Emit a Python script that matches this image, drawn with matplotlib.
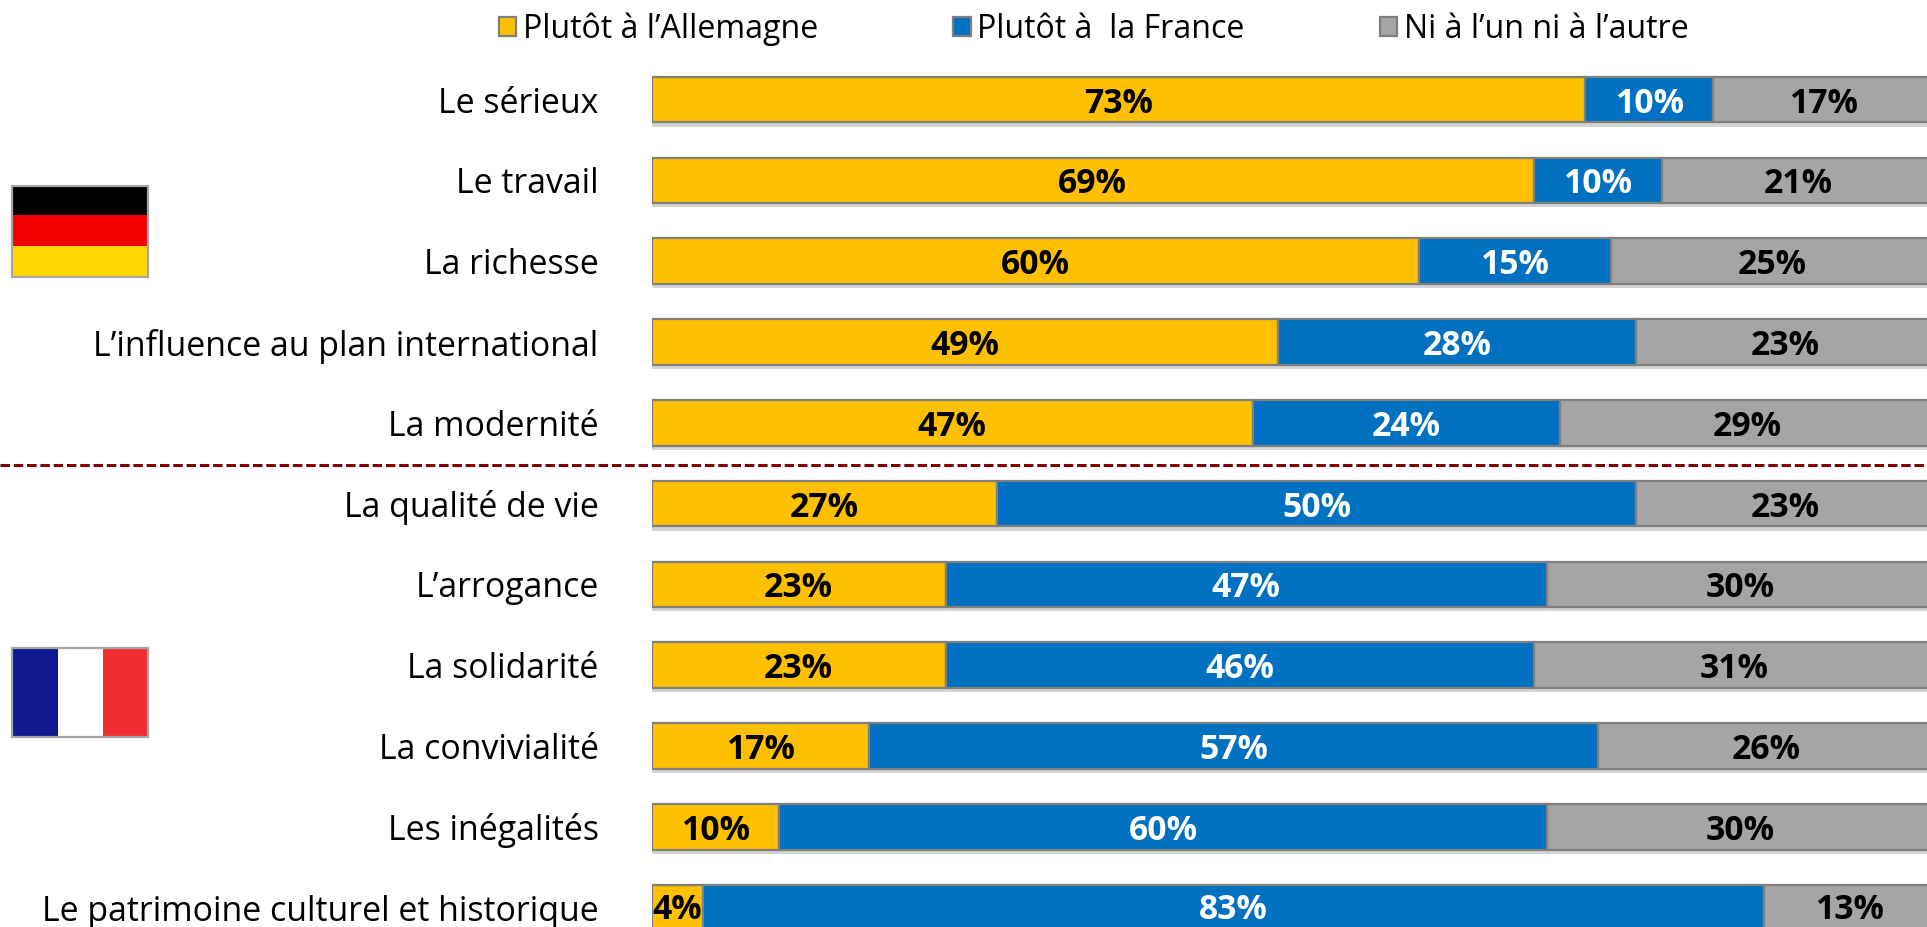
import numpy as np
import matplotlib
matplotlib.use("Agg")
import matplotlib.pyplot as plt
import matplotlib.patheffects as pe
from matplotlib.patches import Patch, Rectangle

plt.rcParams["font.family"] = ["Open Sans", "DejaVu Sans"]

# ---- data ----
categories = ["Le sérieux", "Le travail", "La richesse", "L’influence au plan international",
              "La modernité", "La qualité de vie", "L’arrogance", "La solidarité",
              "La convivialité", "Les inégalités", "Le patrimoine culturel et historique"]
allemagne = [73, 69, 60, 49, 47, 27, 23, 23, 17, 10, 4]
france = [10, 10, 15, 28, 24, 50, 47, 46, 57, 60, 83]
aucun = [17, 21, 25, 23, 29, 23, 30, 31, 26, 30, 13]
series_names = ["Plutôt à l’Allemagne", "Plutôt à  la France", "Ni à l’un ni à l’autre"]

W, H = 1927, 927
C_YEL, C_BLU, C_GRY, C_EDGE = "#FFC000", "#0070C0", "#A5A5A5", "#7F7F7F"

fig = plt.figure(figsize=(W / 100, H / 100), dpi=100, facecolor="white")

# axes from the left edge of the bars to the edge of the picture
left = 651.5
ax = fig.add_axes([left / W, 0, 1 - left / W, 1])
ax.set_xlim(0, (W - left) / 12.79)
pitch = 80.8
ax.set_ylim((H - 99.6) / pitch, -99.6 / pitch)
for s in ax.spines.values():
    s.set_visible(False)
ax.xaxis.set_visible(False)

y = np.arange(len(categories))
a = np.array(allemagne)
f = np.array(france)
n = np.array(aucun)
shadow = [pe.SimplePatchShadow(offset=(0, -3), shadow_rgbFace="#AAAAAA", alpha=0.5), pe.Normal()]

h = 45.5 / pitch
b1 = ax.barh(y, a, height=h, color=C_YEL, edgecolor=C_EDGE, linewidth=1.6, path_effects=shadow)
b2 = ax.barh(y, f, left=a, height=h, color=C_BLU, edgecolor=C_EDGE, linewidth=1.6, path_effects=shadow)
b3 = ax.barh(y, n, left=a + f, height=h, color=C_GRY, edgecolor=C_EDGE, linewidth=1.6, path_effects=shadow)

for bars, col, pad in [(b1, "black", 0), (b2, "white", 0), (b3, "black", 2.5)]:
    labels = ax.bar_label(bars, fmt="%g%%", label_type="center", color=col, fontsize=24.3,
                          fontweight="bold", padding=pad)
    for t in labels:
        t.set_va("center_baseline")

ax.set_yticks(y)
ax.set_yticklabels(categories, fontsize=24.4)
ax.tick_params(axis="y", length=0, pad=38)

# overlay in pixels for the flags and the separator
ov = fig.add_axes([0, 0, 1, 1], zorder=5)
ov.set_xlim(0, W)
ov.set_ylim(H, 0)
ov.axis("off")
ov.patch.set_alpha(0)

for (y0, y1, c) in [(186, 215, "#000000"), (215, 246, "#F20000"), (246, 277, "#FFD700")]:
    ov.add_patch(Rectangle((12, y0), 136, y1 - y0, fc=c, ec="none"))
ov.add_patch(Rectangle((12, 186), 136, 91, fc="none", ec="#A6A6A6", lw=1.6))

for (x0, x1, c) in [(12, 58, "#10198F"), (58, 103, "#FFFFFF"), (103, 148, "#F22D32")]:
    ov.add_patch(Rectangle((x0, 648), x1 - x0, 89, fc=c, ec="none"))
ov.add_patch(Rectangle((12, 648), 136, 89, fc="none", ec="#A6A6A6", lw=1.6))

ov.plot([0, W], [465, 465], color="#800000", lw=2.2, dashes=(3.1, 1.25))

# legend
handles = [Patch(fc=C_YEL, ec=C_EDGE, lw=1.6), Patch(fc=C_BLU, ec=C_EDGE, lw=1.6), Patch(fc=C_GRY, ec=C_EDGE, lw=1.6)]
fig.legend(handles, series_names, ncol=3, frameon=False, fontsize=23.1,
           loc="center left", bbox_to_anchor=(470 / W, 1 - 29 / H),
           handlelength=0.54, handleheight=0.54, handletextpad=0.2, columnspacing=4.22)

fig.savefig("out.png", dpi=100)
